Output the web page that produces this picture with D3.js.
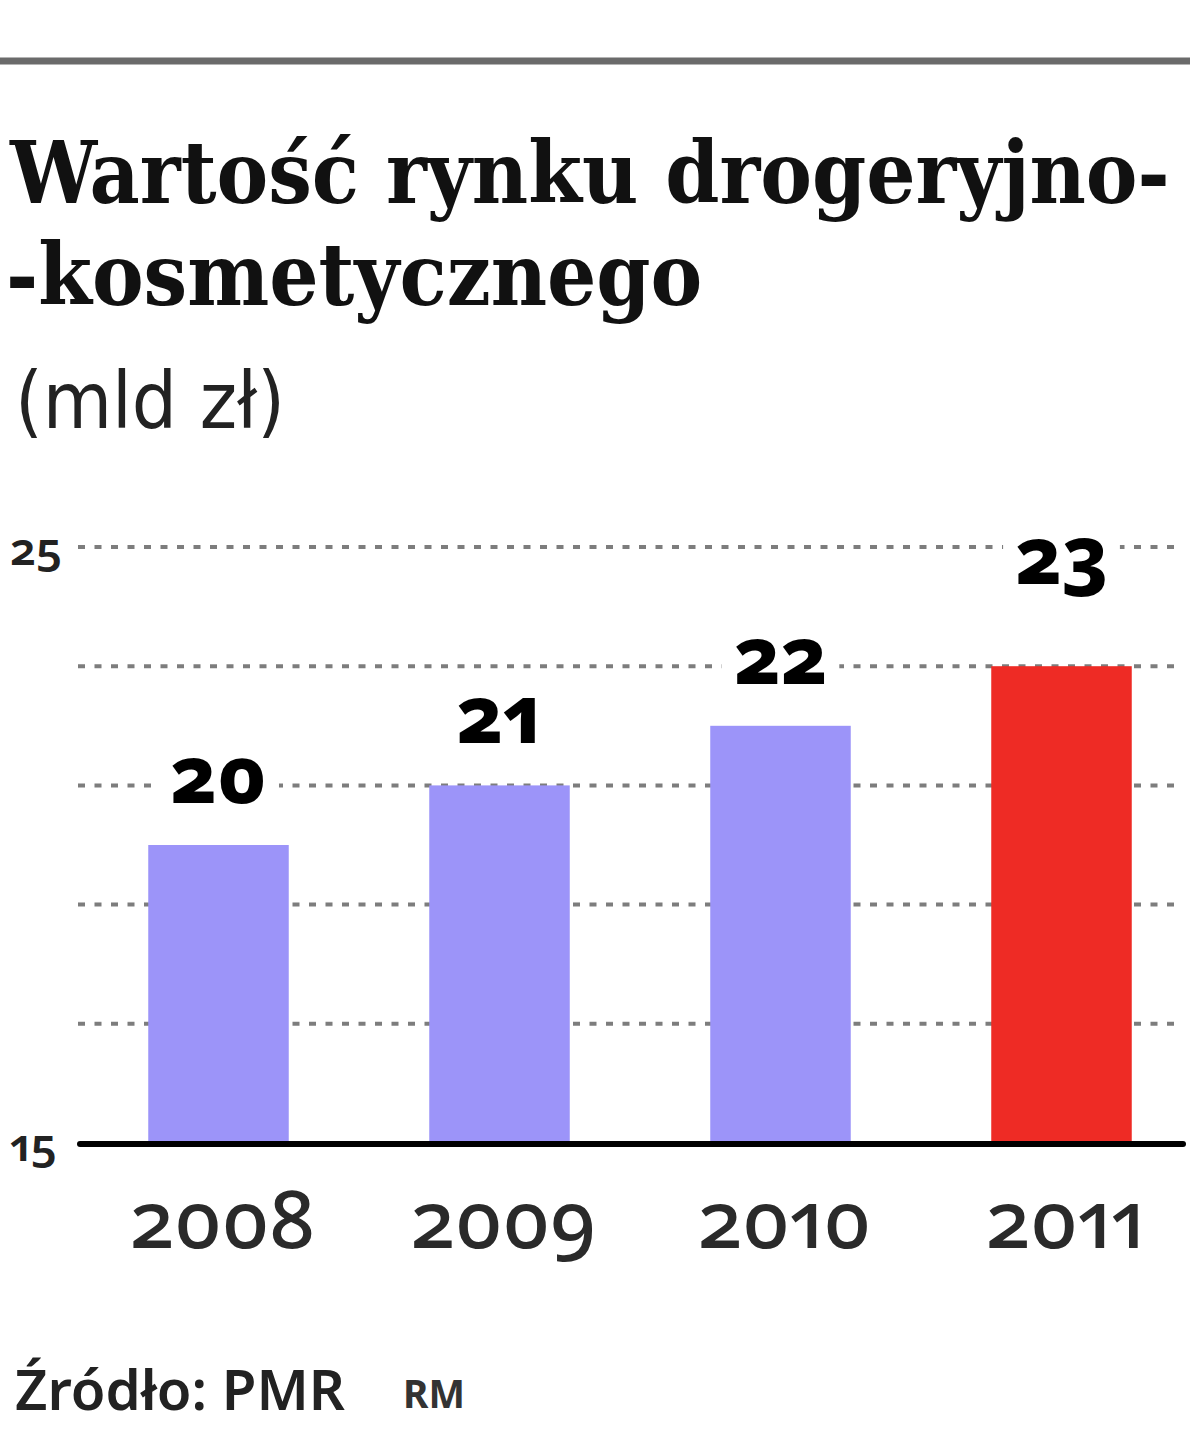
<!DOCTYPE html>
<html>
<head>
<meta charset="utf-8">
<script src="https://cdn.jsdelivr.net/npm/d3@7"></script>
<style>
  html, body { margin: 0; padding: 0; background: #fff; }
  svg { display: block; }
</style>
</head>
<body>
<svg id="chart" width="1200" height="1433"></svg>
<script>
// ---- data ----
const years = ["2008", "2009", "2010", "2011"];
const values = [20, 21, 22, 23];
const highlightYear = "2011";
const yDomain = [15, 25];
const gridValues = [17, 19, 21, 23, 25];
const tickLabels = [15, 25];
const titleLines = ["Wartość rynku drogeryjno-", "-kosmetycznego"];
const subtitle = "(mld zł)";
const sourceText = "Źródło: PMR";
const authorText = "RM";

// ---- setup ----
const svg = d3.select("#chart");
const numFont = "'Noto Sans', 'Open Sans', Lato, sans-serif";
const numFeatures = "'onum' 1, 'pnum' 1";

function fit(sel, w) {
  const l = sel.node().getComputedTextLength();
  const fs = parseFloat(sel.attr("font-size"));
  sel.attr("font-size", fs * w / l);
  return sel;
}

const x = d3.scaleBand().domain(years).range([78, 1202]).paddingInner(0.5).paddingOuter(0.25);
const y = d3.scaleLinear().domain(yDomain).range([1143, 547]);

// top rule
svg.append("line").attr("x1", 0).attr("x2", 1190).attr("y1", 61).attr("y2", 61)
  .attr("stroke", "#6b6b6b").attr("stroke-width", 7);

// title
const titleTexts = titleLines.map((t, i) => svg.append("text").text(t)
  .attr("x", i === 0 ? 10 : 6).attr("y", i === 0 ? 203 : 305)
  .attr("font-family", "'DejaVu Serif Condensed', 'DejaVu Serif', serif")
  .attr("font-weight", "bold").attr("font-size", 70).attr("fill", "#111"));
fit(titleTexts[0], 1160);
titleTexts[1].attr("font-size", titleTexts[0].attr("font-size"));

// subtitle
fit(svg.append("text").text(subtitle)
  .attr("x", 15).attr("y", 428)
  .attr("font-family", "'Liberation Sans Narrow', 'DejaVu Sans Condensed', sans-serif")
  .attr("font-size", 70).attr("fill", "#222"), 270);

// gridlines
svg.append("g").selectAll("line").data(gridValues).join("line")
  .attr("x1", 78).attr("x2", 1180)
  .attr("y1", d => y(d)).attr("y2", d => y(d))
  .attr("stroke", "#7d7d7d").attr("stroke-width", 4)
  .attr("stroke-dasharray", "7,9.5");

// bars
svg.append("g").selectAll("rect").data(years).join("rect")
  .attr("x", d => x(d)).attr("width", x.bandwidth())
  .attr("y", (d, i) => y(values[i]))
  .attr("height", (d, i) => y(yDomain[0]) - y(values[i]))
  .attr("fill", d => d === highlightYear ? "#ee2b25" : "#9c94f9");

// axis baseline
svg.append("line").attr("x1", 80).attr("x2", 1183)
  .attr("y1", y(yDomain[0]) + 1).attr("y2", y(yDomain[0]) + 1)
  .attr("stroke", "#000").attr("stroke-width", 6).attr("stroke-linecap", "round");

// y tick labels
const tl = svg.append("g").selectAll("text").data(tickLabels).join("text")
  .text(d => d)
  .attr("x", 10).attr("y", d => y(d) + 18)
  .attr("font-family", numFont).attr("font-weight", 600)
  .style("font-feature-settings", numFeatures)
  .attr("font-size", 40).attr("fill", "#222");
fit(d3.select(tl.nodes()[1]), 52);
tl.attr("font-size", d3.select(tl.nodes()[1]).attr("font-size"));

// value labels with white knockout
const vg = svg.append("g");
years.forEach((yr, i) => {
  const g = vg.append("g");
  const off = yr === highlightYear ? 82 : 42;
  const by = y(values[i]) - off;
  const t = g.append("text").text(values[i])
    .attr("x", x(yr) + x.bandwidth() / 2).attr("y", by)
    .attr("text-anchor", "middle")
    .attr("font-family", numFont).attr("font-weight", 800)
    .style("font-feature-settings", numFeatures)
    .attr("font-size", 80).attr("fill", "#000");
  const bb = t.node().getBBox();
  g.insert("rect", "text").attr("x", bb.x - 12).attr("width", bb.width + 24)
    .attr("y", by - 50).attr("height", 60).attr("fill", "#fff");
});

// year labels
const yl = svg.append("g").selectAll("text").data(years).join("text")
  .text(d => d)
  .attr("x", d => x(d) + x.bandwidth() / 2 + 4).attr("y", 1248)
  .attr("text-anchor", "middle")
  .attr("font-family", numFont).attr("font-weight", 500)
  .style("font-feature-settings", numFeatures)
  .attr("font-size", 80).attr("fill", "#2a2a2a");
fit(d3.select(yl.nodes()[0]), 185);
yl.attr("font-size", d3.select(yl.nodes()[0]).attr("font-size"));

// footer
fit(svg.append("text").text(sourceText)
  .attr("x", 15).attr("y", 1410)
  .attr("font-family", numFont).attr("font-weight", 600)
  .attr("font-size", 44).attr("fill", "#222"), 330);
fit(svg.append("text").text(authorText)
  .attr("x", 403).attr("y", 1408)
  .attr("font-family", numFont).attr("font-weight", 700)
  .attr("font-size", 28).attr("fill", "#333"), 62);
</script>
</body>
</html>
